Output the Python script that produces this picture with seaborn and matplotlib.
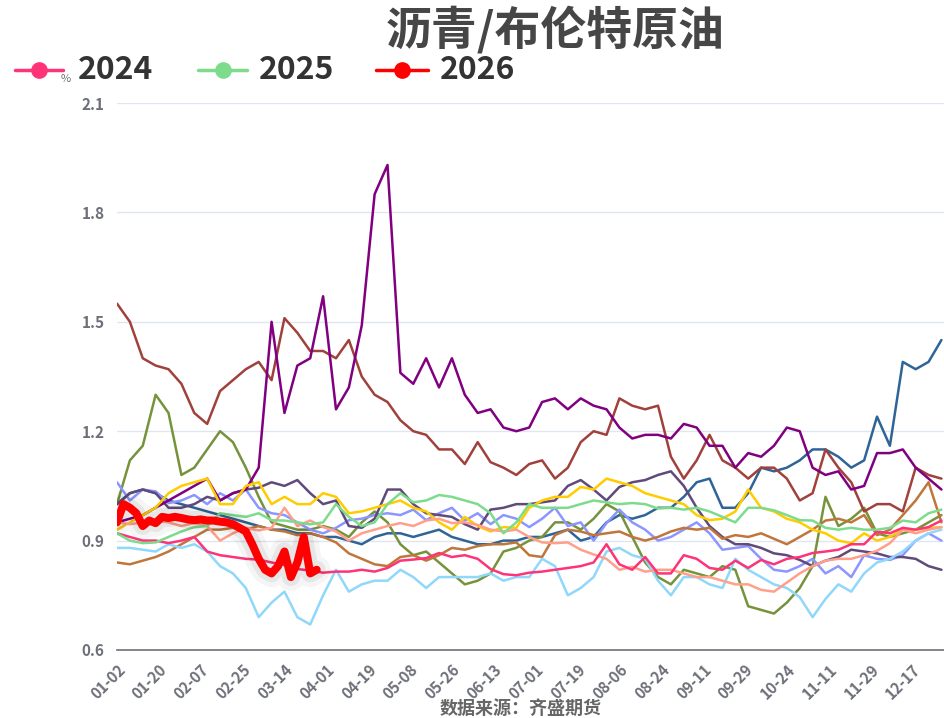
import numpy as np
import pandas as pd
import matplotlib
matplotlib.use("Agg")
import matplotlib.pyplot as plt
import matplotlib.patheffects as pe
from matplotlib.lines import Line2D
import seaborn as sns

# --- datos (ratio asfalto / Brent, muestreado cada 4 días hábiles; 2026 cada 2) ---
title = "沥青/布伦特原油"
source = "数据来源：齐盛期货"
y_unit = "%"
xtick_labels = ["01-02", "01-20", "02-07", "02-25", "03-14", "04-01", "04-19",
                "05-08", "05-26", "06-13", "07-01", "07-19", "08-06", "08-24",
                "09-11", "09-29", "10-24", "11-11", "11-29", "12-17"]
n_days = 257
step = 4
step_2026 = 2
tick_every = 13

v2014 = [1.00, 1.03, 1.04, 1.03, 1.01, 1.00, 0.99, 0.98, 0.97, 0.96, 0.95, 0.94, 0.93,
         0.93, 0.92, 0.92, 0.91, 0.91, 0.90, 0.89, 0.91, 0.92, 0.92, 0.91, 0.92, 0.93,
         0.91, 0.90, 0.89, 0.89, 0.90, 0.90, 0.91, 0.91, 0.92, 0.93, 0.90, 0.91, 0.95,
         0.97, 0.96, 0.97, 0.99, 0.99, 1.02, 1.06, 1.07, 0.99, 0.99, 1.03, 1.10, 1.09,
         1.10, 1.12, 1.15, 1.15, 1.13, 1.10, 1.12, 1.24, 1.16, 1.39, 1.37, 1.39, 1.45]
v2015 = [1.00, 1.12, 1.16, 1.30, 1.25, 1.08, 1.10, 1.15, 1.20, 1.17, 1.10, 1.02, 0.95,
         0.94, 0.93, 0.93, 0.94, 0.93, 0.91, 0.95, 0.98, 0.95, 0.89, 0.86, 0.87, 0.84,
         0.81, 0.78, 0.79, 0.81, 0.87, 0.88, 0.90, 0.91, 0.95, 0.95, 0.93, 0.96, 1.00,
         0.98, 0.91, 0.84, 0.80, 0.78, 0.82, 0.81, 0.80, 0.83, 0.82, 0.72, 0.71, 0.70,
         0.73, 0.77, 0.83, 1.02, 0.94, 0.96, 0.99, 0.92, 0.91, 0.92, 0.93, 0.95, 0.97]
v2016 = [1.55, 1.50, 1.40, 1.38, 1.37, 1.33, 1.25, 1.22, 1.31, 1.34, 1.37, 1.39, 1.34,
         1.51, 1.47, 1.42, 1.42, 1.40, 1.45, 1.35, 1.30, 1.28, 1.23, 1.20, 1.19, 1.15,
         1.15, 1.11, 1.17, 1.115, 1.10, 1.08, 1.11, 1.12, 1.07, 1.10, 1.17, 1.20, 1.19,
         1.29, 1.27, 1.26, 1.27, 1.13, 1.07, 1.12, 1.19, 1.12, 1.10, 1.07, 1.10, 1.10,
         1.07, 1.01, 1.03, 1.15, 1.10, 1.06, 0.98, 1.00, 1.00, 0.98, 1.10, 1.08, 1.07]
v2017 = [1.06, 1.01, 1.04, 1.035, 1.003, 1.01, 1.025, 1.00, 1.03, 1.01, 1.04, 0.99, 0.975,
         0.97, 0.95, 0.93, 0.92, 0.935, 0.956, 0.96, 0.97, 0.975, 0.97, 0.985, 0.956, 0.975,
         0.99, 0.955, 0.975, 0.945, 0.97, 0.96, 0.937, 0.96, 0.99, 0.94, 0.95, 0.90, 0.948,
         0.985, 0.95, 0.93, 0.90, 0.91, 0.93, 0.95, 0.92, 0.875, 0.88, 0.885, 0.85, 0.82,
         0.815, 0.83, 0.85, 0.81, 0.83, 0.80, 0.86, 0.85, 0.847, 0.86, 0.90, 0.92, 0.90]
v2018 = [1.00, 1.03, 1.04, 1.03, 0.99, 0.99, 1.00, 1.02, 1.01, 1.03, 1.04, 1.045, 1.06,
         1.05, 1.066, 1.03, 1.00, 1.01, 0.94, 0.935, 0.96, 1.04, 1.04, 1.00, 0.975, 0.97,
         0.965, 0.945, 0.93, 0.985, 0.99, 1.00, 1.00, 1.005, 1.01, 1.05, 1.066, 1.04, 1.01,
         1.047, 1.06, 1.066, 1.08, 1.09, 1.05, 0.99, 0.94, 0.91, 0.89, 0.89, 0.88, 0.865,
         0.86, 0.847, 0.83, 0.845, 0.855, 0.875, 0.87, 0.865, 0.855, 0.855, 0.85, 0.83, 0.82]
v2019 = [0.84, 0.835, 0.845, 0.855, 0.87, 0.89, 0.91, 0.93, 0.93, 0.935, 0.93, 0.94, 0.93,
         0.925, 0.915, 0.92, 0.91, 0.895, 0.865, 0.85, 0.835, 0.83, 0.855, 0.86, 0.845, 0.86,
         0.88, 0.875, 0.885, 0.89, 0.89, 0.895, 0.86, 0.855, 0.915, 0.93, 0.925, 0.915, 0.92,
         0.925, 0.91, 0.90, 0.91, 0.925, 0.935, 0.93, 0.935, 0.905, 0.915, 0.91, 0.92, 0.905,
         0.89, 0.91, 0.93, 0.955, 0.96, 0.95, 0.97, 0.915, 0.93, 0.97, 1.01, 1.06, 0.95]
v2020 = [0.95, 0.96, 0.97, 0.99, 1.01, 1.03, 1.05, 1.07, 1.01, 1.03, 1.04, 1.10, 1.50,
         1.25, 1.38, 1.40, 1.57, 1.26, 1.32, 1.49, 1.85, 1.93, 1.36, 1.33, 1.40, 1.32,
         1.40, 1.30, 1.25, 1.26, 1.21, 1.20, 1.21, 1.28, 1.29, 1.26, 1.29, 1.27, 1.26,
         1.21, 1.18, 1.19, 1.19, 1.18, 1.22, 1.21, 1.16, 1.16, 1.10, 1.14, 1.13, 1.16,
         1.21, 1.20, 1.10, 1.08, 1.09, 1.04, 1.05, 1.14, 1.14, 1.15, 1.10, 1.07, 1.04]
v2021 = [0.93, 0.95, 0.97, 0.99, 1.03, 1.05, 1.06, 1.07, 1.00, 1.00, 1.05, 1.06, 1.00,
         1.02, 1.00, 1.00, 1.03, 1.02, 0.975, 0.98, 0.99, 1.00, 1.01, 0.99, 0.98, 0.95,
         0.93, 0.965, 0.94, 0.925, 0.937, 0.935, 0.99, 1.01, 1.02, 1.02, 1.047, 1.04, 1.07,
         1.06, 1.05, 1.03, 1.02, 1.01, 1.00, 0.97, 0.956, 0.96, 0.98, 1.04, 0.99, 0.98,
         0.96, 0.95, 0.93, 0.92, 0.90, 0.893, 0.92, 0.90, 0.91, 0.93, 0.93, 0.935, 0.937]
v2022 = [0.88, 0.88, 0.875, 0.87, 0.89, 0.88, 0.89, 0.87, 0.83, 0.81, 0.77, 0.69, 0.73,
         0.76, 0.69, 0.67, 0.75, 0.82, 0.76, 0.78, 0.79, 0.79, 0.82, 0.80, 0.77, 0.80,
         0.80, 0.80, 0.80, 0.81, 0.79, 0.80, 0.80, 0.85, 0.83, 0.75, 0.77, 0.80, 0.87,
         0.88, 0.86, 0.85, 0.79, 0.75, 0.80, 0.80, 0.78, 0.77, 0.85, 0.82, 0.80, 0.78,
         0.77, 0.745, 0.69, 0.74, 0.78, 0.76, 0.81, 0.84, 0.85, 0.87, 0.90, 0.92, 0.93]
v2023 = [0.95, 0.945, 0.95, 0.955, 0.95, 0.94, 0.948, 0.94, 0.90, 0.92, 0.935, 0.928, 0.935,
         0.99, 0.94, 0.955, 0.937, 0.925, 0.90, 0.92, 0.93, 0.94, 0.948, 0.94, 0.955, 0.96,
         0.948, 0.95, 0.943, 0.93, 0.925, 0.93, 0.91, 0.895, 0.893, 0.895, 0.875, 0.862, 0.85,
         0.82, 0.828, 0.815, 0.82, 0.82, 0.81, 0.80, 0.80, 0.79, 0.78, 0.78, 0.765, 0.76,
         0.785, 0.81, 0.83, 0.845, 0.85, 0.85, 0.86, 0.872, 0.893, 0.93, 0.92, 0.93, 0.937]
v2024 = [0.92, 0.91, 0.90, 0.90, 0.893, 0.90, 0.91, 0.87, 0.86, 0.855, 0.85, 0.848, 0.84,
         0.833, 0.822, 0.818, 0.812, 0.815, 0.815, 0.82, 0.815, 0.825, 0.845, 0.848, 0.852, 0.866,
         0.855, 0.86, 0.85, 0.822, 0.808, 0.805, 0.812, 0.815, 0.82, 0.825, 0.83, 0.84, 0.89,
         0.835, 0.82, 0.855, 0.81, 0.81, 0.86, 0.85, 0.825, 0.82, 0.845, 0.825, 0.847, 0.835,
         0.85, 0.855, 0.866, 0.87, 0.875, 0.89, 0.89, 0.925, 0.92, 0.935, 0.93, 0.937, 0.955]
v2025 = [0.92, 0.90, 0.893, 0.895, 0.91, 0.925, 0.937, 0.94, 0.975, 0.97, 0.965, 0.975, 0.956,
         0.955, 0.95, 0.945, 0.95, 1.00, 0.965, 0.94, 0.95, 1.00, 1.03, 1.005, 1.01, 1.025,
         1.02, 1.01, 1.00, 0.975, 0.92, 0.95, 1.00, 0.99, 0.99, 0.99, 1.00, 1.01, 1.005,
         1.00, 1.003, 1.00, 0.988, 0.99, 0.985, 0.99, 0.98, 0.965, 0.95, 0.99, 0.99, 0.983,
         0.97, 0.956, 0.955, 0.935, 0.93, 0.935, 0.93, 0.93, 0.935, 0.955, 0.95, 0.975, 0.985]
v2026 = [0.95, 1.00, 0.99, 0.975, 0.94, 0.955, 0.948, 0.965, 0.962, 0.965, 0.962, 0.958,
         0.956, 0.958, 0.955, 0.955, 0.952, 0.95, 0.945, 0.935, 0.925, 0.89, 0.85, 0.82,
         0.81, 0.83, 0.87, 0.80, 0.84, 0.91, 0.81, 0.82]

series = {"2014": v2014, "2015": v2015, "2016": v2016, "2017": v2017, "2018": v2018,
          "2019": v2019, "2020": v2020, "2021": v2021, "2022": v2022, "2023": v2023,
          "2024": v2024, "2025": v2025, "2026": v2026}
colores = {"2014": "#2f6496", "2015": "#76933c", "2016": "#a0413c", "2017": "#8c96ff",
           "2018": "#604a7b", "2019": "#c0763a", "2020": "#800080", "2021": "#ffcc00",
           "2022": "#8fd8fb", "2023": "#ffa08a", "2024": "#ff3377", "2025": "#7ddc8c",
           "2026": "#ff0000"}
legend_years = ["2024", "2025", "2026"]

filas = []
for anio, vals in series.items():
    st = step_2026 if anio == "2026" else step
    for i, v in enumerate(vals):
        filas.append({"anio": anio, "dia": i * st, "valor": v})
df = pd.DataFrame(filas)

# --- estilo ---
sns.set_theme(style="white")
plt.rcParams["font.family"] = ["Noto Sans CJK SC", "DejaVu Sans"]
gris = "#6e7079"

fig = plt.figure(figsize=(9.44, 7.18), dpi=100)
ax = fig.add_axes([117 / 944, 68 / 718, 827 / 944, 547 / 718])

hist = df[df["anio"] != "2026"]
sns.lineplot(data=hist, x="dia", y="valor", hue="anio",
             palette={k: colores[k] for k in series if k != "2026"},
             linewidth=1.8, legend=False, ax=ax, estimator=None, sort=False)

actual = df[df["anio"] == "2026"]
sns.lineplot(data=actual, x="dia", y="valor", color=colores["2026"], linewidth=5.8,
             legend=False, ax=ax, estimator=None, sort=False,
             path_effects=[pe.Stroke(linewidth=20, foreground="#000000", alpha=0.04),
                           pe.Stroke(linewidth=13, foreground="#000000", alpha=0.06),
                           pe.Normal()])

ax.set_xlim(0, n_days - 0.2)
ax.set_ylim(0.6, 2.1)
yt = [0.6, 0.9, 1.2, 1.5, 1.8, 2.1]
ax.set_yticks(yt)
ax.set_yticklabels([f"{t:.1f}" for t in yt], fontsize=11, fontweight="bold", color=gris)
xt = np.arange(len(xtick_labels)) * tick_every
ax.set_xticks(xt)
ax.set_xticklabels(xtick_labels, rotation=45, ha="right", rotation_mode="anchor",
                   fontsize=11, fontweight="bold", color=gris)
ax.tick_params(axis="x", length=5, width=1, color=gris, pad=3, direction="out")
ax.tick_params(axis="y", length=0, pad=9)
ax.set_xlabel("")
ax.set_ylabel("")
ax.grid(axis="y", color="#e0e6f1", linewidth=1)
ax.grid(axis="x", visible=False)
for s in ["top", "right", "left"]:
    ax.spines[s].set_visible(False)
ax.spines["bottom"].set_color(gris)
ax.spines["bottom"].set_linewidth(1.2)
ax.set_axisbelow(True)

# --- textos ---
fig.text(555 / 944, 1 - 31 / 718, title, ha="center", va="center",
         fontsize=33, fontweight="bold", color="#464646")
fig.text(521 / 944, 1 - 708 / 718, source, ha="center", va="center",
         fontsize=13, fontweight="bold", color="#666666")
fig.text(66 / 944, 1 - 79 / 718, y_unit, ha="center", va="center",
         fontsize=8, color=gris)

# leyenda (solo los tres últimos años, como en el original)
ley_x = [(15, 63, 78), (198, 247, 259), (376, 428, 440)]
ly = 1 - 70 / 718
for anio, (x0, x1, xt_) in zip(legend_years, ley_x):
    fig.add_artist(Line2D([x0 / 944, x1 / 944], [ly, ly], color=colores[anio], lw=2.5,
                          transform=fig.transFigure))
    fig.add_artist(Line2D([(x0 + x1) / 2 / 944], [ly], color=colores[anio], marker="o",
                          markersize=11, transform=fig.transFigure))
    fig.text(xt_ / 944, ly, anio, ha="left", va="center", fontsize=23,
             fontweight="bold", color="#333333")

fig.savefig("out.png", dpi=100)
